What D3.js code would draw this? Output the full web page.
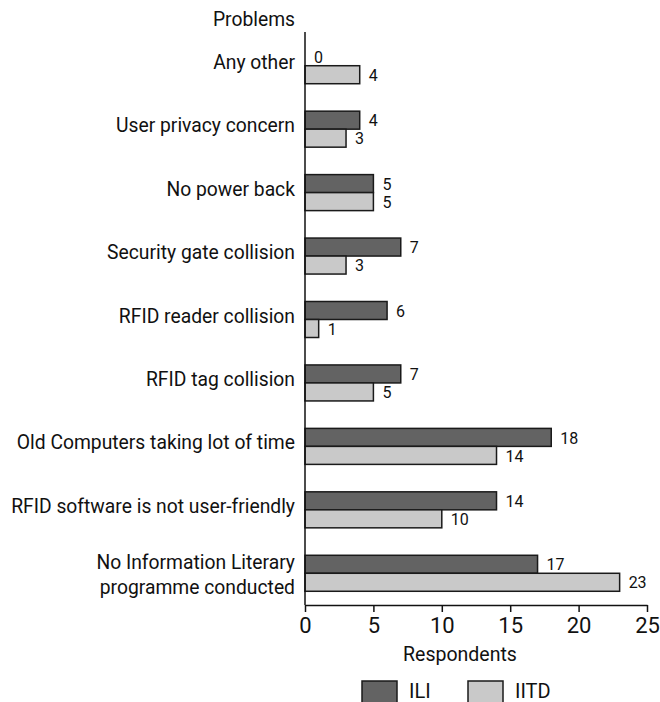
<!DOCTYPE html>
<html>
<head>
<meta charset="utf-8">
<script src="https://cdn.jsdelivr.net/npm/d3@7"></script>
<style>
  html, body { margin: 0; padding: 0; background: #fff; }
  svg text { font-family: "Roboto", "DejaVu Sans Condensed", sans-serif; fill: #111; }
</style>
</head>
<body>
<svg id="chart" width="660" height="702"></svg>
<script>
// Problems faced with RFID systems, respondents per library
const problems = [
  "Any other",
  "User privacy concern",
  "No power back",
  "Security gate collision",
  "RFID reader collision",
  "RFID tag collision",
  "Old Computers taking lot of time",
  "RFID software is not user-friendly",
  "No Information Literary\nprogramme conducted"
];
const seriesNames = ["ILI", "IITD"];
const iliValues  = [0, 4, 5, 7, 6, 7, 18, 14, 17];
const iitdValues = [4, 3, 5, 3, 1, 5, 14, 10, 23];
const xTicks = [0, 5, 10, 15, 20, 25];
const colors = ["#636363", "#c9c9c9"];

const svg = d3.select("#chart");
const plotLeft = 305, plotRight = 647, plotTop = 34, plotBottom = 605;

const x = d3.scaleLinear().domain([0, 25]).range([plotLeft, plotRight]);
const y = d3.scaleBand().domain(problems).range([plotTop, plotBottom]).padding(0);
const barH = 18;

const rows = problems.map((p, i) => ({ p, vals: [iliValues[i], iitdValues[i]] }));

// bars and their value labels
const g = svg.append("g");
rows.forEach(r => {
  const groupTop = y(r.p) + (y.bandwidth() - 2 * barH) / 2;
  r.vals.forEach((v, k) => {
    const yy = groupTop + k * barH;
    if (v > 0) {
      g.append("rect")
        .attr("x", x(0)).attr("y", yy)
        .attr("width", x(v) - x(0)).attr("height", barH)
        .attr("fill", colors[k]).attr("stroke", "#1a1a1a").attr("stroke-width", 1.5);
    }
    g.append("text")
      .attr("x", x(v) + 9).attr("y", yy + barH / 2 + 2)
      .attr("dominant-baseline", "middle")
      .attr("font-size", 16)
      .text(v);
  });
  // category label
  const lines = r.p.split("\n");
  const cy = y(r.p) + y.bandwidth() / 2;
  const lh = 25;
  const t = g.append("text")
    .attr("x", 295).attr("text-anchor", "end")
    .attr("font-size", 19.3);
  lines.forEach((ln, j) => {
    const off = lines.length === 1 ? -2 : (j - (lines.length - 1) / 2) * lh + 3;
    t.append("tspan").attr("x", 295).attr("y", cy + off)
      .attr("dominant-baseline", "middle").text(ln);
  });
});

// y axis line
svg.append("line")
  .attr("x1", plotLeft).attr("x2", plotLeft).attr("y1", plotTop - 2).attr("y2", plotBottom)
  .attr("stroke", "#111").attr("stroke-width", 1.5);

// x axis
const xAxis = svg.append("g")
  .attr("transform", `translate(0,${plotBottom})`)
  .call(d3.axisBottom(x).tickValues(xTicks).tickSize(7).tickPadding(5).tickSizeOuter(0));
xAxis.select(".domain").attr("stroke", "#111").attr("stroke-width", 1.5);
xAxis.selectAll(".tick line").attr("stroke", "#111").attr("stroke-width", 1.5);
xAxis.selectAll(".tick text")
  .attr("font-size", 22)
  .style("font-family", '"Roboto", sans-serif')
  .attr("fill", "#111");

svg.append("text")
  .attr("x", (plotLeft + plotRight) / 2 - 16).attr("y", 656)
  .attr("text-anchor", "middle").attr("dominant-baseline", "middle")
  .attr("font-size", 19.5).text("Respondents");

svg.append("text")
  .attr("x", 295).attr("y", 21)
  .attr("text-anchor", "end").attr("dominant-baseline", "middle")
  .attr("font-size", 19.3).text("Problems");

// legend
const legX = [362, 468];
seriesNames.forEach((n, k) => {
  svg.append("rect")
    .attr("x", legX[k]).attr("y", 681)
    .attr("width", 35).attr("height", 30)
    .attr("fill", colors[k]).attr("stroke", "#1a1a1a").attr("stroke-width", 1.5);
  svg.append("text")
    .attr("x", legX[k] + 47).attr("y", 693)
    .attr("dominant-baseline", "middle")
    .attr("font-size", 20).text(n);
});
</script>
</body>
</html>
